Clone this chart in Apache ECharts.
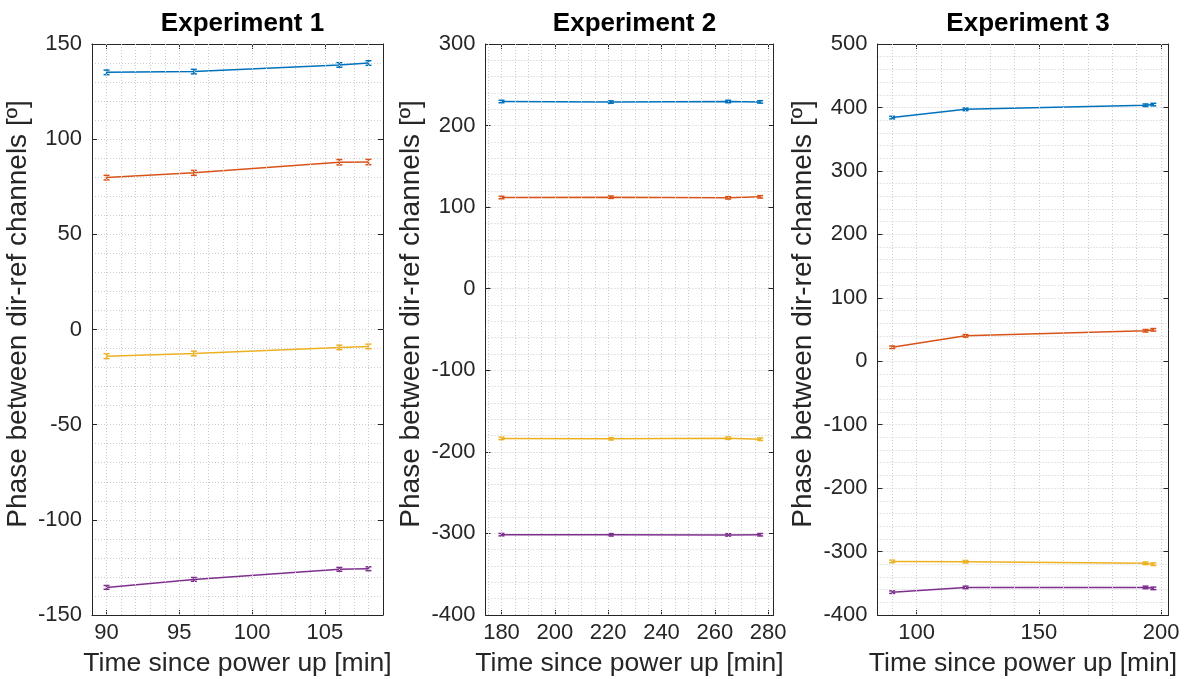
<!DOCTYPE html>
<html>
<head>
<meta charset="utf-8">
<title>Phase between dir-ref channels</title>
<script src="https://cdn.jsdelivr.net/npm/echarts@6/dist/echarts.min.js"></script>
<style>
  html, body { margin: 0; padding: 0; background: #fff; }
  #chart { width: 1190px; height: 679px; }
</style>
</head>
<body>
<div id="chart"></div>
<script type="text/javascript">
// 数据
var titles = ['Experiment 1', 'Experiment 2', 'Experiment 3'];
var seriesColors = ['#0072BD', '#D95319', '#EDB120', '#7E2F8E'];

var time1 = [90, 96, 106, 108];
var exp1Blue = [135.1, 135.5, 139.0, 140.0];
var exp1Orange = [79.8, 82.3, 87.9, 88.0];
var exp1Yellow = [-14.0, -12.6, -9.4, -8.9];
var exp1Purple = [-135.5, -131.3, -126.0, -125.7];
var exp1ErrBlue = [1.2, 1.2, 1.2, 1.2];
var exp1ErrOrange = [1.2, 1.3, 1.4, 1.4];
var exp1ErrYellow = [1.3, 1.2, 1.2, 1.2];
var exp1ErrPurple = [1.0, 1.0, 1.0, 1.0];

var time2 = [180, 221, 265, 277];
var exp2Blue = [229.5, 228.8, 229.5, 229.0];
var exp2Orange = [111.8, 112.2, 111.4, 112.6];
var exp2Yellow = [-183.5, -184.0, -183.2, -184.5];
var exp2Purple = [-301.5, -301.7, -301.8, -301.6];
var exp2Err = [1.5, 1.5, 1.5, 1.5];

var time3 = [90, 120, 193.6, 196.8];
var exp3Blue = [384, 397, 403.5, 404.5];
var exp3Orange = [22, 40, 48, 49.5];
var exp3Yellow = [-315.5, -316, -318.5, -320];
var exp3Purple = [-364, -356.5, -356.5, -358];
var exp3Err = [2, 2, 2, 2];

var xTicks1 = [90, 95, 100, 105];
var xTicks2 = [180, 200, 220, 240, 260, 280];
var xTicks3 = [100, 150, 200];

var xLabel = 'Time since power up [min]';
var yLabel = 'Phase between dir-ref channels [º]';

var chart = echarts.init(document.getElementById('chart'));

var panels = [
    { time: time1, ys: [exp1Blue, exp1Orange, exp1Yellow, exp1Purple],
      errs: [exp1ErrBlue, exp1ErrOrange, exp1ErrYellow, exp1ErrPurple],
      xMin: 89, xMax: 109, xTicks: xTicks1, xGridStep: 1,
      yMin: -150, yMax: 150, yStep: 50, left: 92, width: 291 },
    { time: time2, ys: [exp2Blue, exp2Orange, exp2Yellow, exp2Purple],
      errs: [exp2Err, exp2Err, exp2Err, exp2Err],
      xMin: 174, xMax: 282, xTicks: xTicks2, xGridStep: 5,
      yMin: -400, yMax: 300, yStep: 100, left: 485.5, width: 288 },
    { time: time3, ys: [exp3Blue, exp3Orange, exp3Yellow, exp3Purple],
      errs: [exp3Err, exp3Err, exp3Err, exp3Err],
      xMin: 84, xMax: 203, xTicks: xTicks3, xGridStep: 10,
      yMin: -400, yMax: 500, yStep: 100, left: 877.5, width: 291 }
];

var axisColor = '#262626';
var gridColor = '#cccccc';
var fontFamily = 'Liberation Sans, Arial, Helvetica, sans-serif';

// 误差棒
function renderErr(params, api) {
    var x = api.value(0), y = api.value(1), e = api.value(2);
    var lo = api.coord([x, y - e]);
    var hi = api.coord([x, y + e]);
    var w = 3;
    var style = { stroke: api.visual('color'), lineWidth: 1.5 };
    return {
        type: 'group',
        children: [
            { type: 'line', shape: { x1: lo[0], y1: lo[1], x2: hi[0], y2: hi[1] }, style: style },
            { type: 'line', shape: { x1: lo[0] - w, y1: lo[1], x2: lo[0] + w, y2: lo[1] }, style: style },
            { type: 'line', shape: { x1: hi[0] - w, y1: hi[1], x2: hi[0] + w, y2: hi[1] }, style: style }
        ]
    };
}

var option = {
    animation: false,
    textStyle: { fontFamily: fontFamily },
    title: [],
    grid: [],
    xAxis: [],
    yAxis: [],
    series: []
};

panels.forEach(function (p, i) {
    option.title.push({
        text: titles[i],
        left: p.left + p.width / 2,
        top: 6,
        textAlign: 'center',
        textStyle: { fontSize: 26, fontWeight: 'bold', color: '#000', fontFamily: fontFamily }
    });
    option.grid.push({ left: p.left, top: 44, width: p.width, height: 571, outerBoundsMode: 'none', containLabel: false });

    var tickCommon = { show: true, inside: true, length: 5, lineStyle: { color: axisColor, width: 1 } };

    // bottom x
    option.xAxis.push({
        type: 'value', gridIndex: i, position: 'bottom', min: p.xMin, max: p.xMax,
        axisLine: { show: true, onZero: false, lineStyle: { color: axisColor, width: 1 } },
        axisTick: Object.assign({ customValues: p.xTicks }, tickCommon),
        axisLabel: { customValues: p.xTicks, fontSize: 22, color: axisColor, margin: 7, fontFamily: fontFamily },
        splitLine: { show: false },
        name: xLabel, nameLocation: 'middle', nameGap: 35,
        nameTextStyle: { fontSize: 26.5, color: axisColor, fontFamily: fontFamily }
    });
    // top x (box)
    option.xAxis.push({
        type: 'value', gridIndex: i, position: 'top', min: p.xMin, max: p.xMax,
        axisLine: { show: true, onZero: false, lineStyle: { color: axisColor, width: 1 } },
        axisTick: Object.assign({ customValues: p.xTicks }, tickCommon),
        axisLabel: { show: false },
        splitLine: { show: false }
    });
    // left y
    option.yAxis.push({
        type: 'value', gridIndex: i, position: 'left', min: p.yMin, max: p.yMax, interval: p.yStep,
        axisLine: { show: true, onZero: false, lineStyle: { color: axisColor, width: 1 } },
        axisTick: tickCommon,
        axisLabel: { fontSize: 22, color: axisColor, margin: 10, fontFamily: fontFamily },
        splitLine: { show: true, lineStyle: { color: gridColor, type: [1, 2], width: 1 } },
        minorTick: { show: false, splitNumber: 5 },
        minorSplitLine: { show: true, lineStyle: { color: gridColor, type: [1, 2], width: 1 } },
        name: yLabel, nameLocation: 'middle', nameGap: 60,
        nameTextStyle: { fontSize: 28, color: axisColor, fontFamily: fontFamily, padding: [0, 0, 0, 31] }
    });
    // right y (box)
    option.yAxis.push({
        type: 'value', gridIndex: i, position: 'right', min: p.yMin, max: p.yMax, interval: p.yStep,
        axisLine: { show: true, onZero: false, lineStyle: { color: axisColor, width: 1 } },
        axisTick: tickCommon,
        axisLabel: { show: false },
        splitLine: { show: false }
    });

    var xAxisIndex = i * 2;
    var yAxisIndex = i * 2;

    // vertical grid lines
    var vLines = [];
    var start = Math.ceil((p.xMin + 0.001) / p.xGridStep) * p.xGridStep;
    for (var v = start; v < p.xMax - 0.001; v += p.xGridStep) {
        vLines.push({ xAxis: v });
    }
    option.series.push({
        type: 'line', xAxisIndex: xAxisIndex, yAxisIndex: yAxisIndex, data: [], z: 1,
        silent: true,
        markLine: {
            silent: true, symbol: 'none', label: { show: false }, animation: false,
            lineStyle: { color: gridColor, type: [1, 2], width: 1 },
            emphasis: { disabled: true },
            data: vLines
        }
    });

    p.ys.forEach(function (ys, k) {
        var pts = p.time.map(function (t, j) { return [t, ys[j]]; });
        var errPts = p.time.map(function (t, j) { return [t, ys[j], p.errs[k][j]]; });
        option.series.push({
            type: 'line', xAxisIndex: xAxisIndex, yAxisIndex: yAxisIndex,
            data: pts, symbol: 'none', z: 3,
            lineStyle: { color: seriesColors[k], width: 1.5 },
            itemStyle: { color: seriesColors[k] }
        });
        option.series.push({
            type: 'custom', xAxisIndex: xAxisIndex, yAxisIndex: yAxisIndex,
            data: errPts, renderItem: renderErr, z: 4,
            itemStyle: { color: seriesColors[k] },
            encode: { x: 0, y: 1 }
        });
    });
});

chart.setOption(option);
window.onresize = function () {
    chart.resize();
};
</script>
</body>
</html>
